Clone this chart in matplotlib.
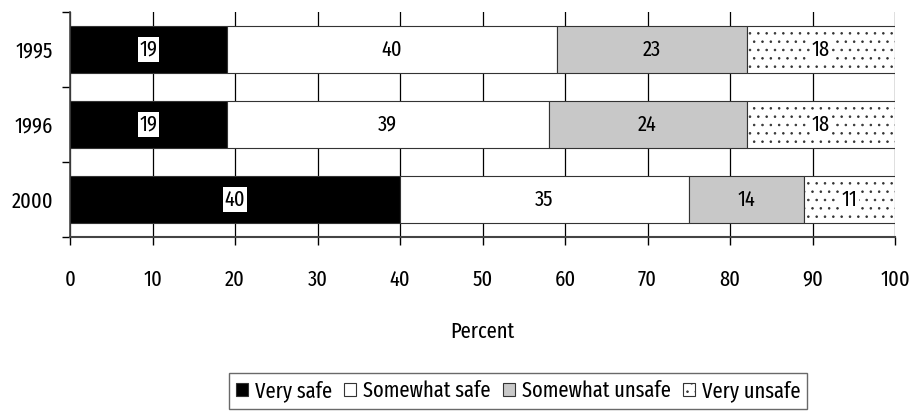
import numpy as np
import matplotlib.pyplot as plt
from matplotlib.patches import Patch

years = ["1995", "1996", "2000"]
very_safe = [19, 19, 40]
somewhat_safe = [40, 39, 35]
somewhat_unsafe = [23, 24, 14]
very_unsafe = [18, 18, 11]
series_names = ["Very safe", "Somewhat safe", "Somewhat unsafe", "Very unsafe"]

plt.rcParams['font.family'] = ['Fira Sans Extra Condensed', 'DejaVu Sans']
plt.rcParams['hatch.color'] = '#8a8a8a'
plt.rcParams['hatch.linewidth'] = 0.6

FS = 16

fig = plt.figure(figsize=(9.13, 4.15), dpi=100)
ax = fig.add_axes([70 / 913, 1 - 237 / 415, 825 / 913, 225 / 415])

y = np.arange(len(years))
series = [very_safe, somewhat_safe, somewhat_unsafe, very_unsafe]
faces = ['black', 'white', '#c8c8c8', 'white']
hatches = [None, None, None, '..']
label_box = [True, False, False, True]

left = np.zeros(len(years))
for vals, fc, h, box in zip(series, faces, hatches, label_box):
    vals = np.array(vals, dtype=float)
    ax.barh(y, vals, left=left, height=0.62, color=fc, edgecolor='#333333',
            linewidth=0.8, hatch=h, zorder=3)
    for yi, l, v in zip(y, left, vals):
        kw = {}
        if box:
            kw['bbox'] = dict(facecolor='white', edgecolor='none', pad=1.0)
        ax.text(l + v / 2, yi, f"{int(v)}", ha='center', va='center',
                fontsize=FS, color='black', zorder=4, **kw)
    left += vals

ax.set_xlim(0, 100)
ax.set_ylim(len(years) - 0.5, -0.5)
ax.set_xticks(np.arange(0, 101, 10))
ax.set_yticks(y)
ax.set_yticklabels(years)
ax.set_yticks(np.arange(-0.5, len(years)), minor=True)
ax.tick_params(axis='y', which='major', length=0, labelsize=FS, pad=12)
ax.tick_params(axis='y', which='minor', length=6, width=1, direction='out')
ax.tick_params(axis='x', length=6, width=1, direction='out', labelsize=FS, pad=17)
ax.xaxis.grid(True, color='black', linewidth=0.9, zorder=0)
ax.set_axisbelow(True)
for s in ['top', 'right']:
    ax.spines[s].set_visible(False)
ax.spines['left'].set_color('#444444')
ax.spines['bottom'].set_color('#444444')
ax.spines['left'].set_linewidth(1.2)
ax.spines['bottom'].set_linewidth(1.5)
ax.set_xlabel("Percent", fontsize=FS, labelpad=22)

handles = [Patch(facecolor=fc, edgecolor='#333333', hatch=h, linewidth=0.8)
           for fc, h in zip(faces, hatches)]
leg = fig.legend(handles, series_names, loc='center', bbox_to_anchor=(518 / 913, 1 - 391 / 415),
                 ncol=4, frameon=True, fancybox=False, fontsize=FS,
                 handlelength=0.55, handleheight=0.55, handletextpad=0.3,
                 columnspacing=0.55, borderpad=0.3)
leg.get_frame().set_edgecolor('#444444')
leg.get_frame().set_linewidth(1.0)

fig.savefig("out.png", dpi=100)
